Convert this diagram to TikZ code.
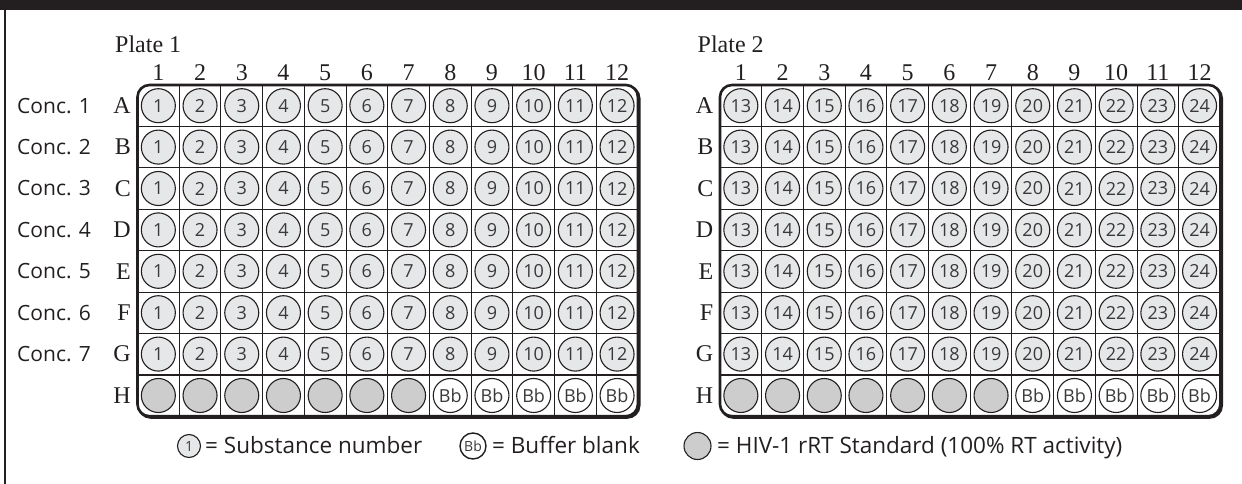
\documentclass[tikz,border=0pt]{standalone}
\usepackage{fontspec}
\setmainfont{Liberation Serif}
\newfontfamily\sansf{Open Sans}
\definecolor{ink}{HTML}{231F20}
\definecolor{wellfill}{HTML}{E6E7E8}
\definecolor{stdfill}{HTML}{CDCDCD}
\definecolor{numtxt}{HTML}{3A3A3A}
\def\cw{41.7}
\def\ch{41.4}
\def\ytop{85}
\tikzset{
  well/.style={circle, draw=ink, line width=1.1pt, minimum size=34pt, inner sep=0pt,
    font=\sansf\fontsize{18}{18}\selectfont, text=numtxt},
  subst/.style={well, fill=wellfill},
  stdwell/.style={well, fill=stdfill},
  blankwell/.style={well, fill=white},
  serlab/.style={font=\fontsize{24}{24}\selectfont, text=ink, inner sep=0pt},
  sanslab/.style={font=\sansf\fontsize{21}{21}\selectfont, text=ink, inner sep=0pt},
  legtext/.style={sanslab, anchor=base west, font=\sansf\fontsize{22.5}{22.5}\selectfont},
  gridline/.style={draw=ink, line width=1pt},
  sepline/.style={draw=ink, line width=2pt},
  frame/.style={draw=ink, line width=2.6pt, rounded corners=12pt},
}
\newcommand\drawplate[4]{% #1 x0, #2 id, #3 title, #4 number offset
  \begin{scope}[shift={(#1,0)}]
    \draw[frame] (1.3,\ytop+1.3) rectangle ({12*\cw+1.3},{\ytop+8*\ch+1.3});
    \path[fill=white, rounded corners=12pt] (0,\ytop) rectangle ({12*\cw},{\ytop+8*\ch});
    \foreach \c in {1,...,11}
      \draw[gridline] ({\c*\cw},\ytop) -- ({\c*\cw},{\ytop+8*\ch});
    \foreach \r in {1,...,6}
      \draw[gridline] (0,{\ytop+\r*\ch}) -- ({12*\cw},{\ytop+\r*\ch});
    \draw[sepline] (0,{\ytop+7*\ch}) -- ({12*\cw},{\ytop+7*\ch});
    \draw[frame] (0,\ytop) rectangle ({12*\cw},{\ytop+8*\ch});
    \node[serlab, anchor=base west] (#2-title) at (-22.5,53) {#3};
    \foreach \c in {1,...,12} {
      \node[serlab, anchor=base] (#2-col\c) at ({(\c-0.5)*\cw},81) {\c};
      \pgfmathtruncatemacro\n{\c+#4}
      \foreach \r in {1,...,7}
        \node[subst] (#2-\r-\c) at ({(\c-0.5)*\cw},{\ytop+(\r-0.5)*\ch}) {\n};
      \ifnum\c<8
        \node[stdwell] (#2-8-\c) at ({(\c-0.5)*\cw},{\ytop+7.5*\ch}) {};
      \else
        \node[blankwell] (#2-8-\c) at ({(\c-0.5)*\cw},{\ytop+7.5*\ch}) {Bb};
      \fi
    }
    \foreach \r/\L in {1/A,2/B,3/C,4/D,5/E,6/F,7/G,8/H}
      \node[serlab, anchor=east] (#2-row\L) at (-6.5,{\ytop+(\r-0.5)*\ch}) {\L};
  \end{scope}
}
\begin{document}
\begin{tikzpicture}[x=1pt,y=-1pt]
  \useasboundingbox (0,0) rectangle (1242,484);
  \fill[ink] (0,0) rectangle (1242,10);
  \draw[ink, line width=2pt] (5,10) -- (5,484);
  \drawplate{137.5}{p1}{Plate 1}{0}
  \drawplate{720}{p2}{Plate 2}{12}
  \foreach \r in {1,...,7}
    \node[sanslab, anchor=west] (conc\r) at (17,{\ytop+(\r-0.5)*\ch}) {Conc. \r};
  % legend
  \node[subst, minimum size=23pt, font=\sansf\fontsize{14}{14}\selectfont] (lg1) at (189,446) {1};
  \node[legtext] (lg1t) at (205,453.5) {= Substance number};
  \node[blankwell, minimum size=26pt, line width=1.4pt, font=\sansf\fontsize{14}{14}\selectfont] (lg2) at (473,446) {Bb};
  \node[legtext] (lg2t) at (492,453.5) {= Buffer blank};
  \node[stdwell, minimum size=27pt] (lg3) at (697.5,446) {};
  \node[legtext] (lg3t) at (717,453.5) {= HIV-1 rRT Standard (100\% RT activity)};
\end{tikzpicture}
\end{document}
